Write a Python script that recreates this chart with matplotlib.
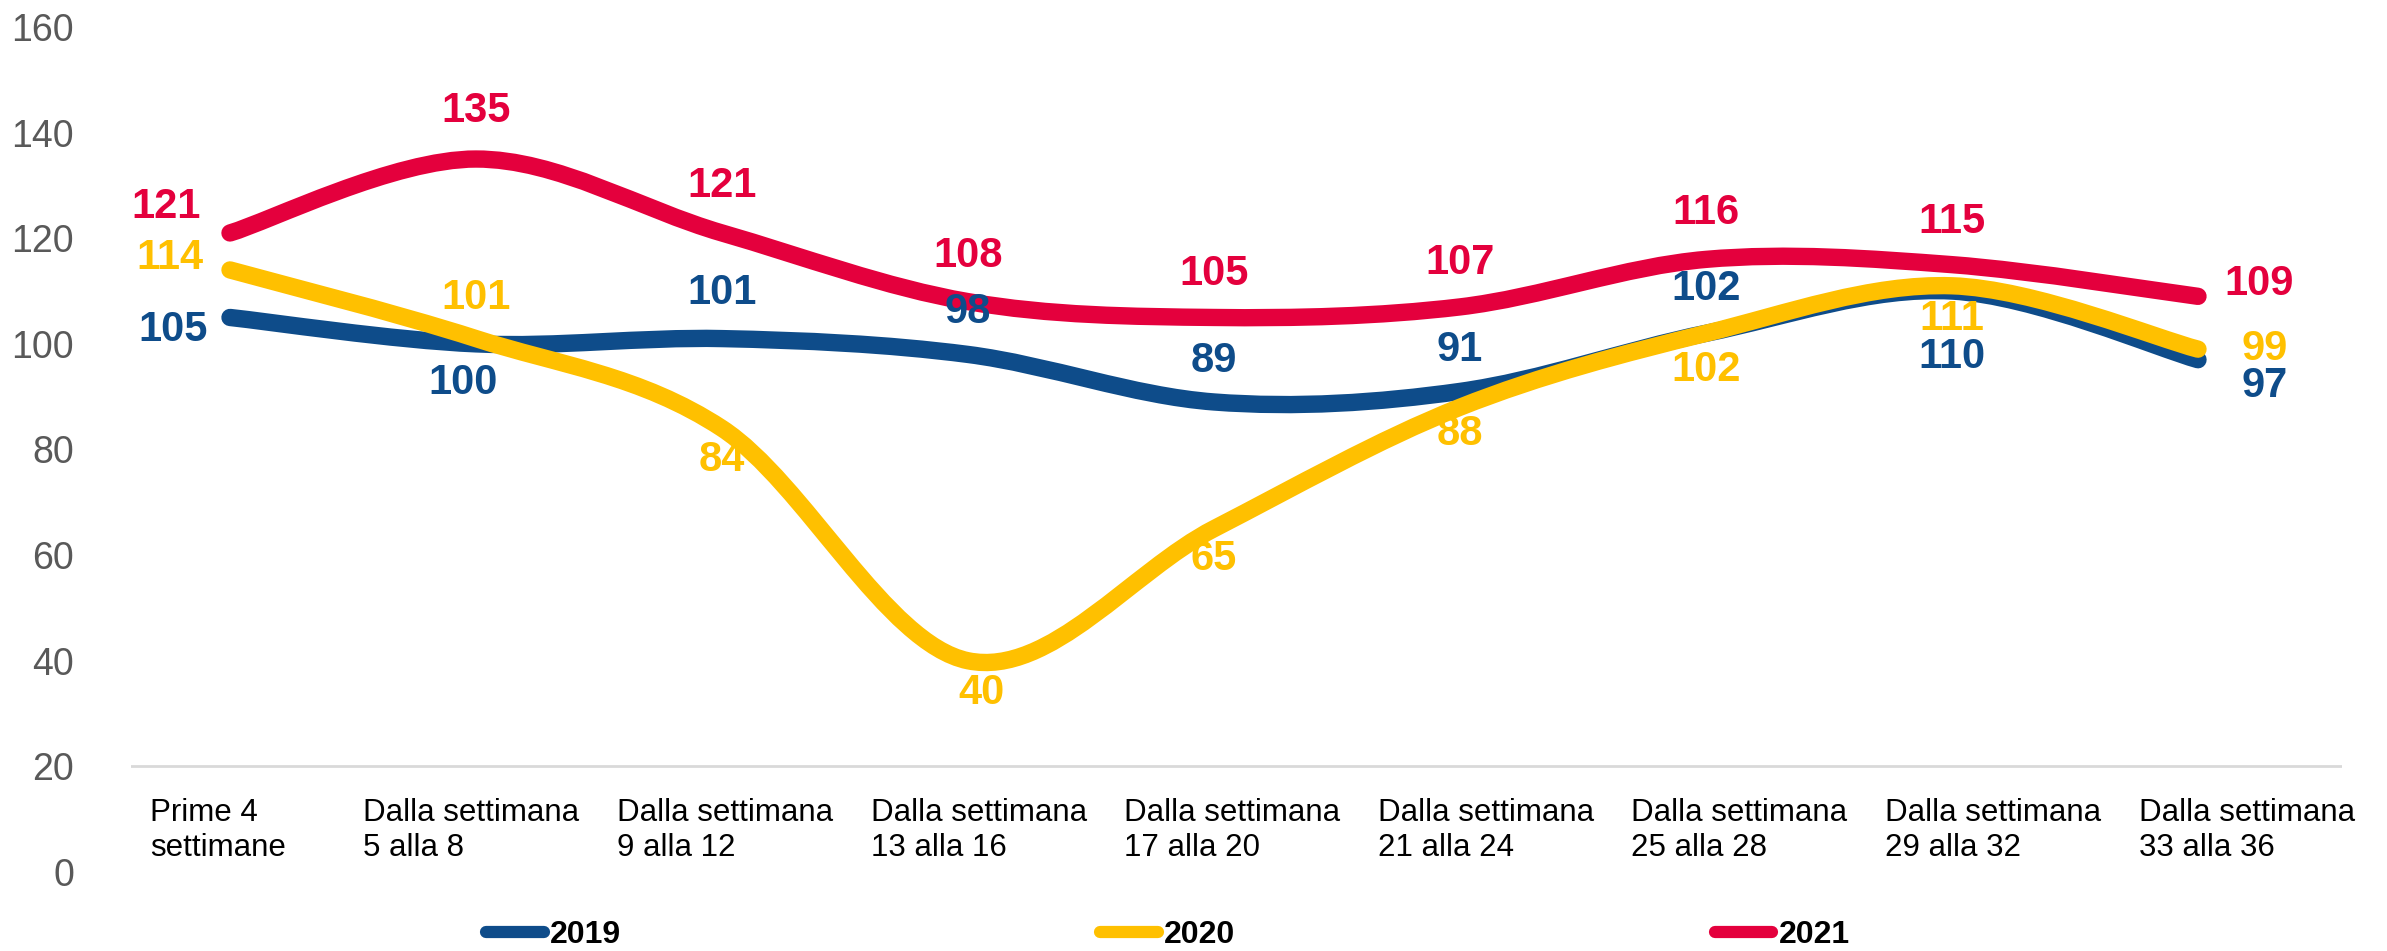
import matplotlib
matplotlib.use('Agg')
import matplotlib.pyplot as plt
import numpy as np
from matplotlib.path import Path
from matplotlib.patches import PathPatch
from matplotlib.lines import Line2D

#-----------------------------------------------------------------------------#
# data

categories = [
    'Prime 4\nsettimane',
    'Dalla settimana\n5 alla 8',
    'Dalla settimana\n9 alla 12',
    'Dalla settimana\n13 alla 16',
    'Dalla settimana\n17 alla 20',
    'Dalla settimana\n21 alla 24',
    'Dalla settimana\n25 alla 28',
    'Dalla settimana\n29 alla 32',
    'Dalla settimana\n33 alla 36',
]
series_names = ['2019', '2020', '2021']
values_2019 = [105, 100, 101, 98, 89, 91, 102, 110, 97]
values_2020 = [114, 101, 84, 40, 65, 88, 102, 111, 99]
values_2021 = [121, 135, 121, 108, 105, 107, 116, 115, 109]
y_ticks = [0, 20, 40, 60, 80, 100, 120, 140, 160]

#-----------------------------------------------------------------------------#
# style

FONT = 'Liberation Sans'
COLORS = {'2019': '#0E4C8A', '2020': '#FFC000', '2021': '#E4003D'}

# label offsets in pixels (dx, dy), dy positive = up
OFFSETS = {
    '2019': [(-57, -13), (-13, -39), (0, 46), (0, 42), (0, 41),
             (0, 41), (0, 44), (0, -66), (67, -26)],
    '2020': [(-60, 12), (0, 41), (0, -32), (14, -32), (0, -30),
             (0, -27), (0, -37), (0, -33), (67, 0)],
    '2021': [(-64, 26), (0, 48), (0, 47), (0, 46), (0, 43),
             (0, 44), (0, 46), (0, 43), (61, 12)],
}

# the category texts are spread a little wider than the points
CAT_SHIFT = -0.05
CAT_STEP = 1.031

plt.rcParams['font.family'] = [FONT, 'DejaVu Sans']


def smooth_path(xs, ys):
    '''
    Bezier path through the points, like the smoothed lines of a
    spreadsheet chart (control points from the neighbours, 1/6 tension).
    '''
    pts = np.column_stack([xs, ys]).astype(float)
    ext = np.vstack([pts[0], pts, pts[-1]])
    verts = [pts[0]]
    codes = [Path.MOVETO]
    for i in range(len(pts) - 1):
        p0, p1, p2, p3 = ext[i], ext[i + 1], ext[i + 2], ext[i + 3]
        c1 = p1 + (p2 - p0) / 6.0
        c2 = p2 - (p3 - p1) / 6.0
        verts += [c1, c2, p2]
        codes += [Path.CURVE4] * 3
    return Path(verts, codes)


#-----------------------------------------------------------------------------#
# plot

fig = plt.figure(figsize=(23.87, 9.51), dpi=100)
ax = fig.add_axes([131 / 2387, 79 / 951, 2211 / 2387, 845 / 951])
ax.set_xlim(-0.4024, 8.5854)
ax.set_ylim(0, 160)

x = np.arange(len(categories))
all_values = {'2019': values_2019, '2020': values_2020, '2021': values_2021}

ax.axhline(20, color='#D9D9D9', lw=2, zorder=1)

for name in series_names:
    vals = all_values[name]
    patch = PathPatch(smooth_path(x, vals), fill=False, lw=12.5,
                      edgecolor=COLORS[name], capstyle='round',
                      joinstyle='round', zorder=2)
    ax.add_patch(patch)
    for i, v in enumerate(vals):
        dx, dy = OFFSETS[name][i]
        ax.annotate(str(v), (x[i], v), xytext=(dx, dy),
                    textcoords='offset pixels', ha='center', va='center',
                    fontsize=30, fontweight='bold', color=COLORS[name],
                    zorder=4)

for i, cat in enumerate(categories):
    ax.text(CAT_SHIFT + CAT_STEP * x[i], 14, cat, ha='center', va='top',
            multialignment='left', fontsize=22.5, color='black',
            linespacing=1.2)

ax.set_yticks(y_ticks)
ax.set_xticks([])
ax.tick_params(axis='y', length=0, labelsize=27, labelcolor='#595959',
               pad=41)
for s in ax.spines.values():
    s.set_visible(False)

handles = [Line2D([], [], color=COLORS[n], lw=8.8, solid_capstyle='round')
           for n in series_names]
leg = fig.legend(handles, series_names, loc='center',
                 bbox_to_anchor=(1168 / 2387, 16 / 951), ncol=3,
                 frameon=False, handlelength=1.8, handletextpad=0.2,
                 columnspacing=15.0,
                 prop={'family': FONT, 'size': 23, 'weight': 'bold'})

fig.savefig('out.png', dpi=100)
